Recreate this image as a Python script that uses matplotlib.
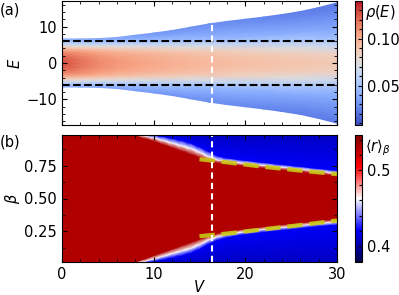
import numpy as np
import matplotlib
matplotlib.use('Agg')
import matplotlib.pyplot as plt
from matplotlib.ticker import MultipleLocator, AutoMinorLocator

# ---------------- panel (a): density of states ----------------
V_a = np.array([0, 2, 4, 6, 8, 10, 12, 14, 16, 18, 20, 22, 24, 26, 28, 30])
edge_a = np.array([6.6, 6.6, 6.7, 7.0, 7.6, 8.2, 8.9, 9.8, 10.7, 11.4, 12.0, 12.6, 13.3, 14.1, 15.2, 16.5])
frac_a = np.array([0, 0.15, 0.3, 0.45, 0.6, 0.7, 0.8, 0.9, 1.0])  # fraction of spectrum half-width
rho_by_V = [
    [.127, .126, .120, .112, .095, .080, .062, .050, .042],
    [.118, .118, .114, .108, .092, .078, .060, .049, .040],
    [.112, .111, .108, .102, .088, .074, .058, .047, .038],
    [.107, .106, .103, .097, .082, .068, .054, .044, .036],
    [.104, .103, .100, .092, .074, .060, .048, .040, .034],
    [.101, .100, .097, .087, .066, .053, .043, .037, .032],
    [.099, .098, .094, .082, .060, .048, .041, .035, .031],
    [.097, .096, .091, .075, .052, .043, .038, .034, .030],
    [.095, .094, .088, .068, .047, .040, .036, .032, .029],
    [.094, .092, .085, .063, .045, .039, .035, .031, .028],
    [.093, .091, .082, .060, .043, .038, .034, .030, .027],
    [.092, .090, .079, .057, .042, .037, .033, .029, .026],
    [.091, .088, .076, .054, .041, .036, .032, .028, .025],
    [.090, .087, .073, .052, .040, .035, .031, .027, .024],
    [.089, .085, .068, .048, .038, .034, .030, .026, .023],
    [.088, .083, .062, .045, .037, .033, .029, .025, .022],
]
E_dash = [-6, 6]
V_mark = 16.4

# ---------------- panel (b): mean gap ratio ----------------
V_b = np.array([0, 8, 9, 10, 11, 12, 13, 14, 15, 16, 17, 18, 20, 22, 24, 26, 28, 30])
beta_red_up = np.array([.985, .985, .96, .94, .915, .89, .865, .84, .815, .79, .775, .765, .75, .735, .72, .705, .69, .675])
beta_white_up = np.array([.985, .985, .98, .965, .945, .925, .905, .885, .855, .82, .795, .785, .77, .755, .74, .725, .71, .695])
beta_blue_up = np.array([.985, .985, .985, .985, .975, .96, .945, .925, .895, .86, .825, .81, .792, .775, .76, .745, .73, .715])
beta_red_low = np.array([.015, .015, .04, .065, .09, .115, .14, .165, .19, .215, .235, .25, .268, .285, .30, .315, .33, .345])
beta_white_low = np.array([.015, .015, .02, .04, .06, .08, .10, .12, .15, .185, .21, .228, .248, .265, .28, .295, .31, .322])
beta_blue_low = np.array([.015, .015, .015, .02, .035, .05, .065, .085, .115, .155, .185, .205, .228, .245, .26, .275, .29, .30])
r_deep_blue, r_blue, r_white, r_red = 0.407, 0.42, 0.4625, 0.53

V_fit = np.array([15, 18.5, 22, 26, 30])
beta_fit_up = np.array([0.80, 0.772, 0.742, 0.713, 0.686])
beta_fit_low = np.array([0.212, 0.236, 0.265, 0.297, 0.332])

# ---------------- figure ----------------
W, H = 399, 295
fig = plt.figure(figsize=(W / 100, H / 100), dpi=100)
plt.rcParams['font.size'] = 10.5
FS = 10.5

def box(l, t, r, b):
    return [l / W, 1 - b / H, (r - l) / W, (b - t) / H]

ax1 = fig.add_axes(box(62, 1, 337, 125))
cax1 = fig.add_axes(box(355, 1, 362, 125))
ax2 = fig.add_axes(box(62, 135, 337, 262))
cax2 = fig.add_axes(box(355, 135, 362, 262))

# panel (a) mesh
rho = np.array(rho_by_V).T  # rows: frac, cols: V
frac_full = np.concatenate([-frac_a[::-1], frac_a[1:]])
rho_full = np.concatenate([rho[::-1], rho[1:]], axis=0)
X1 = np.broadcast_to(V_a[None, :], rho_full.shape)
Y1 = frac_full[:, None] * edge_a[None, :]
m1 = ax1.pcolormesh(X1, Y1, rho_full, shading='gouraud', cmap='coolwarm',
                    vmin=0.008, vmax=0.14, rasterized=True)
for e in E_dash:
    ax1.axhline(e, color='black', ls='--', lw=1.5)
ax1.axvline(V_mark, color='white', ls='--', lw=1.5, dashes=(3, 2))
ax1.set_xlim(0, 30)
ax1.set_ylim(-17, 17)
ax1.set_ylabel('$E$', labelpad=2, fontsize=FS)
ax1.yaxis.set_major_locator(MultipleLocator(10))
ax1.yaxis.set_minor_locator(MultipleLocator(2))
ax1.xaxis.set_major_locator(MultipleLocator(10))
ax1.xaxis.set_minor_locator(MultipleLocator(2))
ax1.tick_params(labelbottom=False)

# panel (b) mesh
rows_beta = [np.full_like(beta_red_up, 0.015), beta_blue_low, beta_white_low, beta_red_low,
             np.full_like(beta_red_up, 0.5), beta_red_up, beta_white_up, beta_blue_up,
             np.full_like(beta_red_up, 0.985)]
rows_val = [r_deep_blue, r_blue, r_white, r_red, r_red, r_red, r_white, r_blue, r_deep_blue]
Y2 = np.array(rows_beta)
C2 = np.array([np.full_like(beta_red_up, v) for v in rows_val])
X2 = np.broadcast_to(V_b[None, :], Y2.shape)
m2 = ax2.pcolormesh(X2, Y2, C2, shading='gouraud', cmap='seismic',
                    vmin=0.379, vmax=0.546, rasterized=True)
ax2.plot(V_fit, beta_fit_up, color='#c8c814', lw=3, ls='--', alpha=0.9)
ax2.plot(V_fit, beta_fit_low, color='#c8c814', lw=3, ls='--', alpha=0.9)
ax2.axvline(V_mark, color='white', ls='--', lw=1.5, dashes=(3, 2))
ax2.set_xlim(0, 30)
ax2.set_ylim(0.015, 0.985)
ax2.set_ylabel(r'$\beta$', labelpad=2, fontsize=FS)
ax2.set_xlabel('$V$', labelpad=-2, fontsize=FS)
ax2.xaxis.set_major_locator(MultipleLocator(10))
ax2.xaxis.set_minor_locator(MultipleLocator(2))
ax2.yaxis.set_major_locator(MultipleLocator(0.25))
ax2.yaxis.set_minor_locator(AutoMinorLocator(2))

for ax in (ax1, ax2):
    ax.tick_params(which='both', direction='in', top=True, right=True, labelsize=FS)
    ax.tick_params(which='major', length=3.5)
    ax.tick_params(which='minor', length=2)

cb1 = fig.colorbar(m1, cax=cax1)
cb1.set_ticks([0.05, 0.10])
cb1.ax.yaxis.set_minor_locator(MultipleLocator(0.01))
cb2 = fig.colorbar(m2, cax=cax2)
cb2.set_ticks([0.4, 0.5])
cb2.ax.yaxis.set_minor_locator(MultipleLocator(0.02))
for cb in (cb1, cb2):
    cb.ax.tick_params(which='both', direction='in', length=2, width=0.8, labelsize=FS)
    cb.ax.tick_params(which='major', length=3)
    cb.outline.set_linewidth(0.8)

fig.text(365 / W, 1 - 12 / H, r'$\rho(E)$', ha='left', va='center', fontsize=FS)
fig.text(365 / W, 1 - 148 / H, r'$\langle r\rangle_\beta$', ha='left', va='center', fontsize=FS)
fig.text(0 / W, 1 - 10 / H, '(a)', ha='left', va='center', fontsize=FS)
fig.text(0 / W, 1 - 142 / H, '(b)', ha='left', va='center', fontsize=FS)

fig.savefig('out.png', dpi=100)
